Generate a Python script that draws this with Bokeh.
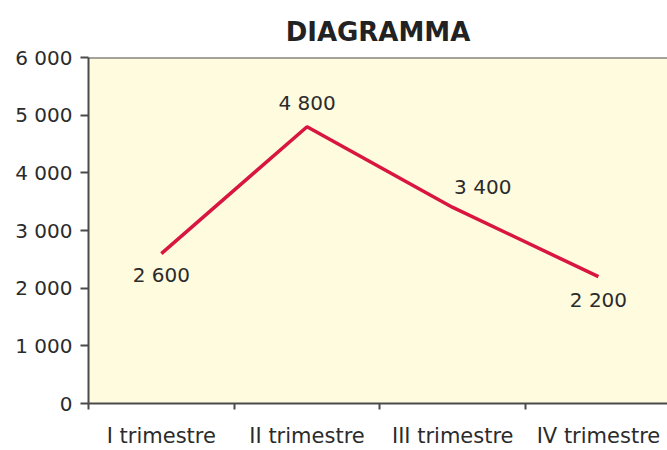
from bokeh.plotting import figure
from bokeh.models import FixedTicker, Range1d, Span, ColumnDataSource, LabelSet
from bokeh.core.properties import value
from bokeh.embed import file_html
from bokeh.resources import INLINE

title_text = "DIAGRAMMA"
categories = ["I trimestre", "II trimestre", "III trimestre", "IV trimestre"]
values = [2600, 4800, 3400, 2200]
value_labels = ["2 600", "4 800", "3 400", "2 200"]
y_ticks = [0, 1000, 2000, 3000, 4000, 5000, 6000]
y_tick_labels = ["0", "1 000", "2 000", "3 000", "4 000", "5 000", "6 000"]

FONT = "DejaVu Sans"
TXT = "#2b2b2b"
AX = "#4a4a4a"

xs = [i + 0.5 for i in range(len(categories))]

p = figure(width=667, height=450, output_backend="svg", toolbar_location=None,
           x_range=Range1d(0, 3.974), y_range=Range1d(0, 6000),
           min_border_left=88, min_border_right=0, min_border_top=57, min_border_bottom=46)
p.background_fill_color = "#fefbdf"
p.border_fill_color = "white"
p.outline_line_color = None
p.grid.visible = False

p.title.text = title_text
p.title.align = "center"
p.title.standoff = 22
p.title.text_font = FONT
p.title.text_font_style = "bold"
p.title.text_font_size = "26px"
p.title.text_color = "#222222"

# x axis: labels at category centres, ticks at boundaries
xa = p.xaxis[0]
xa.ticker = FixedTicker(ticks=xs, minor_ticks=[0, 1, 2, 3, 4])
xa.major_label_overrides = {x: c for x, c in zip(xs, categories)}
xa.major_tick_out = 0
xa.major_tick_in = 0
xa.minor_tick_out = 6
xa.minor_tick_in = 0
xa.minor_tick_line_color = AX
xa.minor_tick_line_width = 2
xa.axis_line_color = AX
xa.axis_line_width = 2
xa.major_label_text_font = FONT
xa.major_label_text_font_size = "21px"
xa.major_label_text_color = TXT
xa.major_label_standoff = 14

ya = p.yaxis[0]
ya.ticker = FixedTicker(ticks=y_ticks)
ya.major_label_overrides = {t: l for t, l in zip(y_ticks, y_tick_labels)}
ya.minor_tick_line_color = None
ya.major_tick_out = 8
ya.major_tick_in = 0
ya.major_tick_line_color = AX
ya.major_tick_line_width = 2
ya.axis_line_color = AX
ya.axis_line_width = 2
ya.major_label_text_font = FONT
ya.major_label_text_font_size = "20px"
ya.major_label_text_color = TXT
ya.major_label_standoff = 8

p.add_layout(Span(location=6000, dimension="width", line_color=AX, line_width=2))

src = ColumnDataSource(dict(x=xs, y=values, lab=value_labels,
                            dx=[0, 0, 30, 0], dy=[-21, 24, 20, -23]))
p.line("x", "y", source=src, line_color="#d9163f", line_width=3.5)

labels = LabelSet(x="x", y="y", text="lab", source=src, x_offset="dx", y_offset="dy",
                  text_align="center", text_baseline="middle",
                  text_font=value(FONT), text_font_size="20px", text_color=TXT)
p.add_layout(labels)

open("out.html", "w").write(file_html(p, INLINE))
